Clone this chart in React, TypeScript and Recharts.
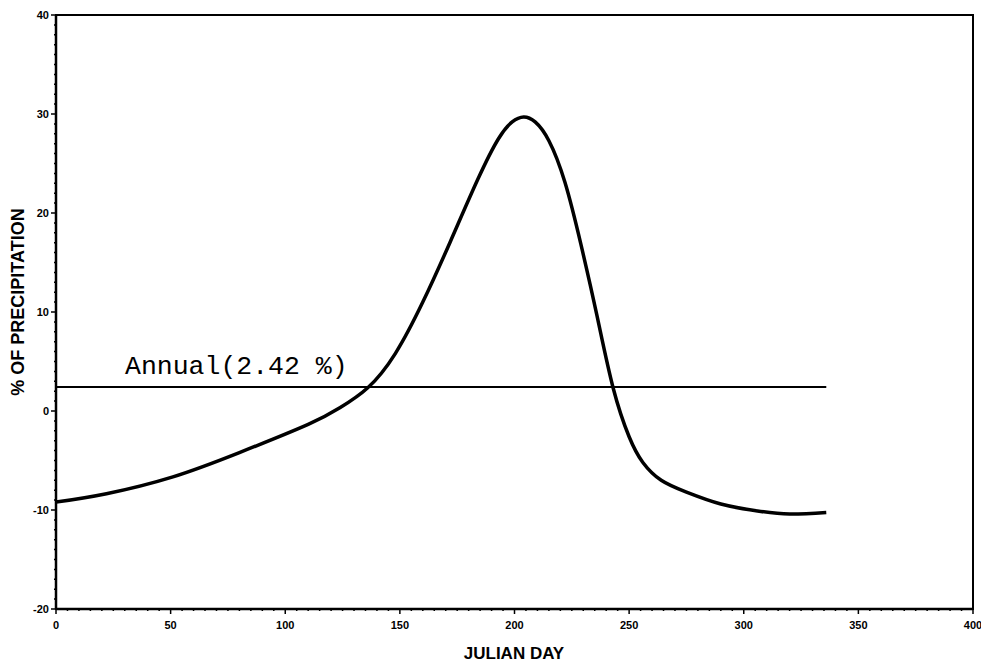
import { LineChart, Line, XAxis, YAxis, ReferenceArea } from 'recharts'

// Julian day vs % of precipitation
const days = [0, 22, 51, 80, 110, 124, 136, 148, 160, 172, 184, 193, 199, 204, 209, 215, 222, 229, 236, 243, 250, 256, 264, 275, 290, 306, 320, 336]
const precip = [-9.2, -8.35, -6.65, -4.2, -1.35, 0.35, 2.35, 5.8, 11.0, 17.1, 23.4, 27.5, 29.2, 29.7, 29.2, 27.3, 23.1, 16.8, 9.6, 2.35, -2.6, -5.2, -7.0, -8.2, -9.4, -10.1, -10.4, -10.25]

const annualDays = [0, 336]
const annualValue = 2.42

const xMajor = [0, 50, 100, 150, 200, 250, 300, 350, 400]
const yMajor = [-20, -10, 0, 10, 20, 30, 40]

const xTicks = Array.from({ length: 81 }, (_, i) => i * 5)
const yTicks = Array.from({ length: 61 }, (_, i) => i - 20)

const curve = days.map((d, i) => ({ day: d, pct: precip[i] }))
const annual = annualDays.map((d) => ({ day: d, annual: annualValue }))

const sans = 'Liberation Sans, Arial, sans-serif'
const tickFont = { fontFamily: sans, fontWeight: 'bold' as const, fontSize: 11 }

function XTick(props: any) {
  const { x, y, payload } = props
  const major = xMajor.includes(payload.value)
  return (
    <g>
      <line x1={x} x2={x} y1={y} y2={y + (major ? 5 : 2)} stroke="#000" strokeWidth={1.5} />
      {major && (
        <text x={x} y={y + 20} textAnchor="middle" fill="#000" {...tickFont}>
          {payload.value}
        </text>
      )}
    </g>
  )
}

function YTick(props: any) {
  const { x, y, payload } = props
  const major = yMajor.includes(payload.value)
  return (
    <g>
      <line x1={x} x2={x - (major ? 5 : 2)} y1={y} y2={y} stroke="#000" strokeWidth={1.5} />
      {major && (
        <text x={x - 7} y={y + 4} textAnchor="end" fill="#000" {...tickFont}>
          {payload.value}
        </text>
      )}
    </g>
  )
}

export default function App() {
  return (
    <div style={{ position: 'absolute', left: 0, top: 0, background: '#fff' }}>
      <LineChart width={981} height={666} margin={{ top: 15, right: 8, bottom: 0, left: 0 }}>
        <XAxis
          dataKey="day"
          type="number"
          domain={[0, 400]}
          ticks={xTicks}
          interval={0}
          tick={<XTick />}
          tickLine={false}
          tickSize={0}
          tickMargin={0}
          height={57}
          axisLine={{ stroke: '#000', strokeWidth: 2.5 }}
          allowDataOverflow
          label={{
            content: () => (
              <text x={514} y={659} textAnchor="middle" fill="#000" fontFamily={sans} fontWeight="bold" fontSize={17}>
                JULIAN DAY
              </text>
            ),
          }}
        />
        <YAxis
          type="number"
          domain={[-20, 40]}
          ticks={yTicks}
          interval={0}
          tick={<YTick />}
          tickLine={false}
          tickSize={0}
          tickMargin={0}
          width={56}
          axisLine={{ stroke: '#000', strokeWidth: 2.5 }}
          allowDataOverflow
          label={{
            content: () => (
              <text
                x={0}
                y={0}
                transform="translate(24, 302) rotate(-90)"
                textAnchor="middle"
                fill="#000"
                fontFamily={sans}
                fontWeight="bold"
                fontSize={18}
              >
                % OF PRECIPITATION
              </text>
            ),
          }}
        />
        {/* plot frame (top and right edges) */}
        <ReferenceArea x1={0} x2={400} y1={-20} y2={40} fill="none" stroke="#000" strokeWidth={2} />
        <Line
          data={annual}
          dataKey="annual"
          type="linear"
          stroke="#000"
          strokeWidth={2}
          dot={false}
          isAnimationActive={false}
          label={(p: any) =>
            p.index === 0 ? (
              <text key="annual-label" x={p.x + 69} y={p.y - 13} fill="#000" fontFamily="Liberation Mono, Courier New, monospace" fontSize={26.5}>
                Annual(2.42 %)
              </text>
            ) : (
              <g key={`annual-${p.index}`} />
            )
          }
        />
        <Line
          data={curve}
          dataKey="pct"
          type="natural"
          stroke="#000"
          strokeWidth={3.5}
          dot={false}
          isAnimationActive={false}
        />
      </LineChart>
    </div>
  )
}
